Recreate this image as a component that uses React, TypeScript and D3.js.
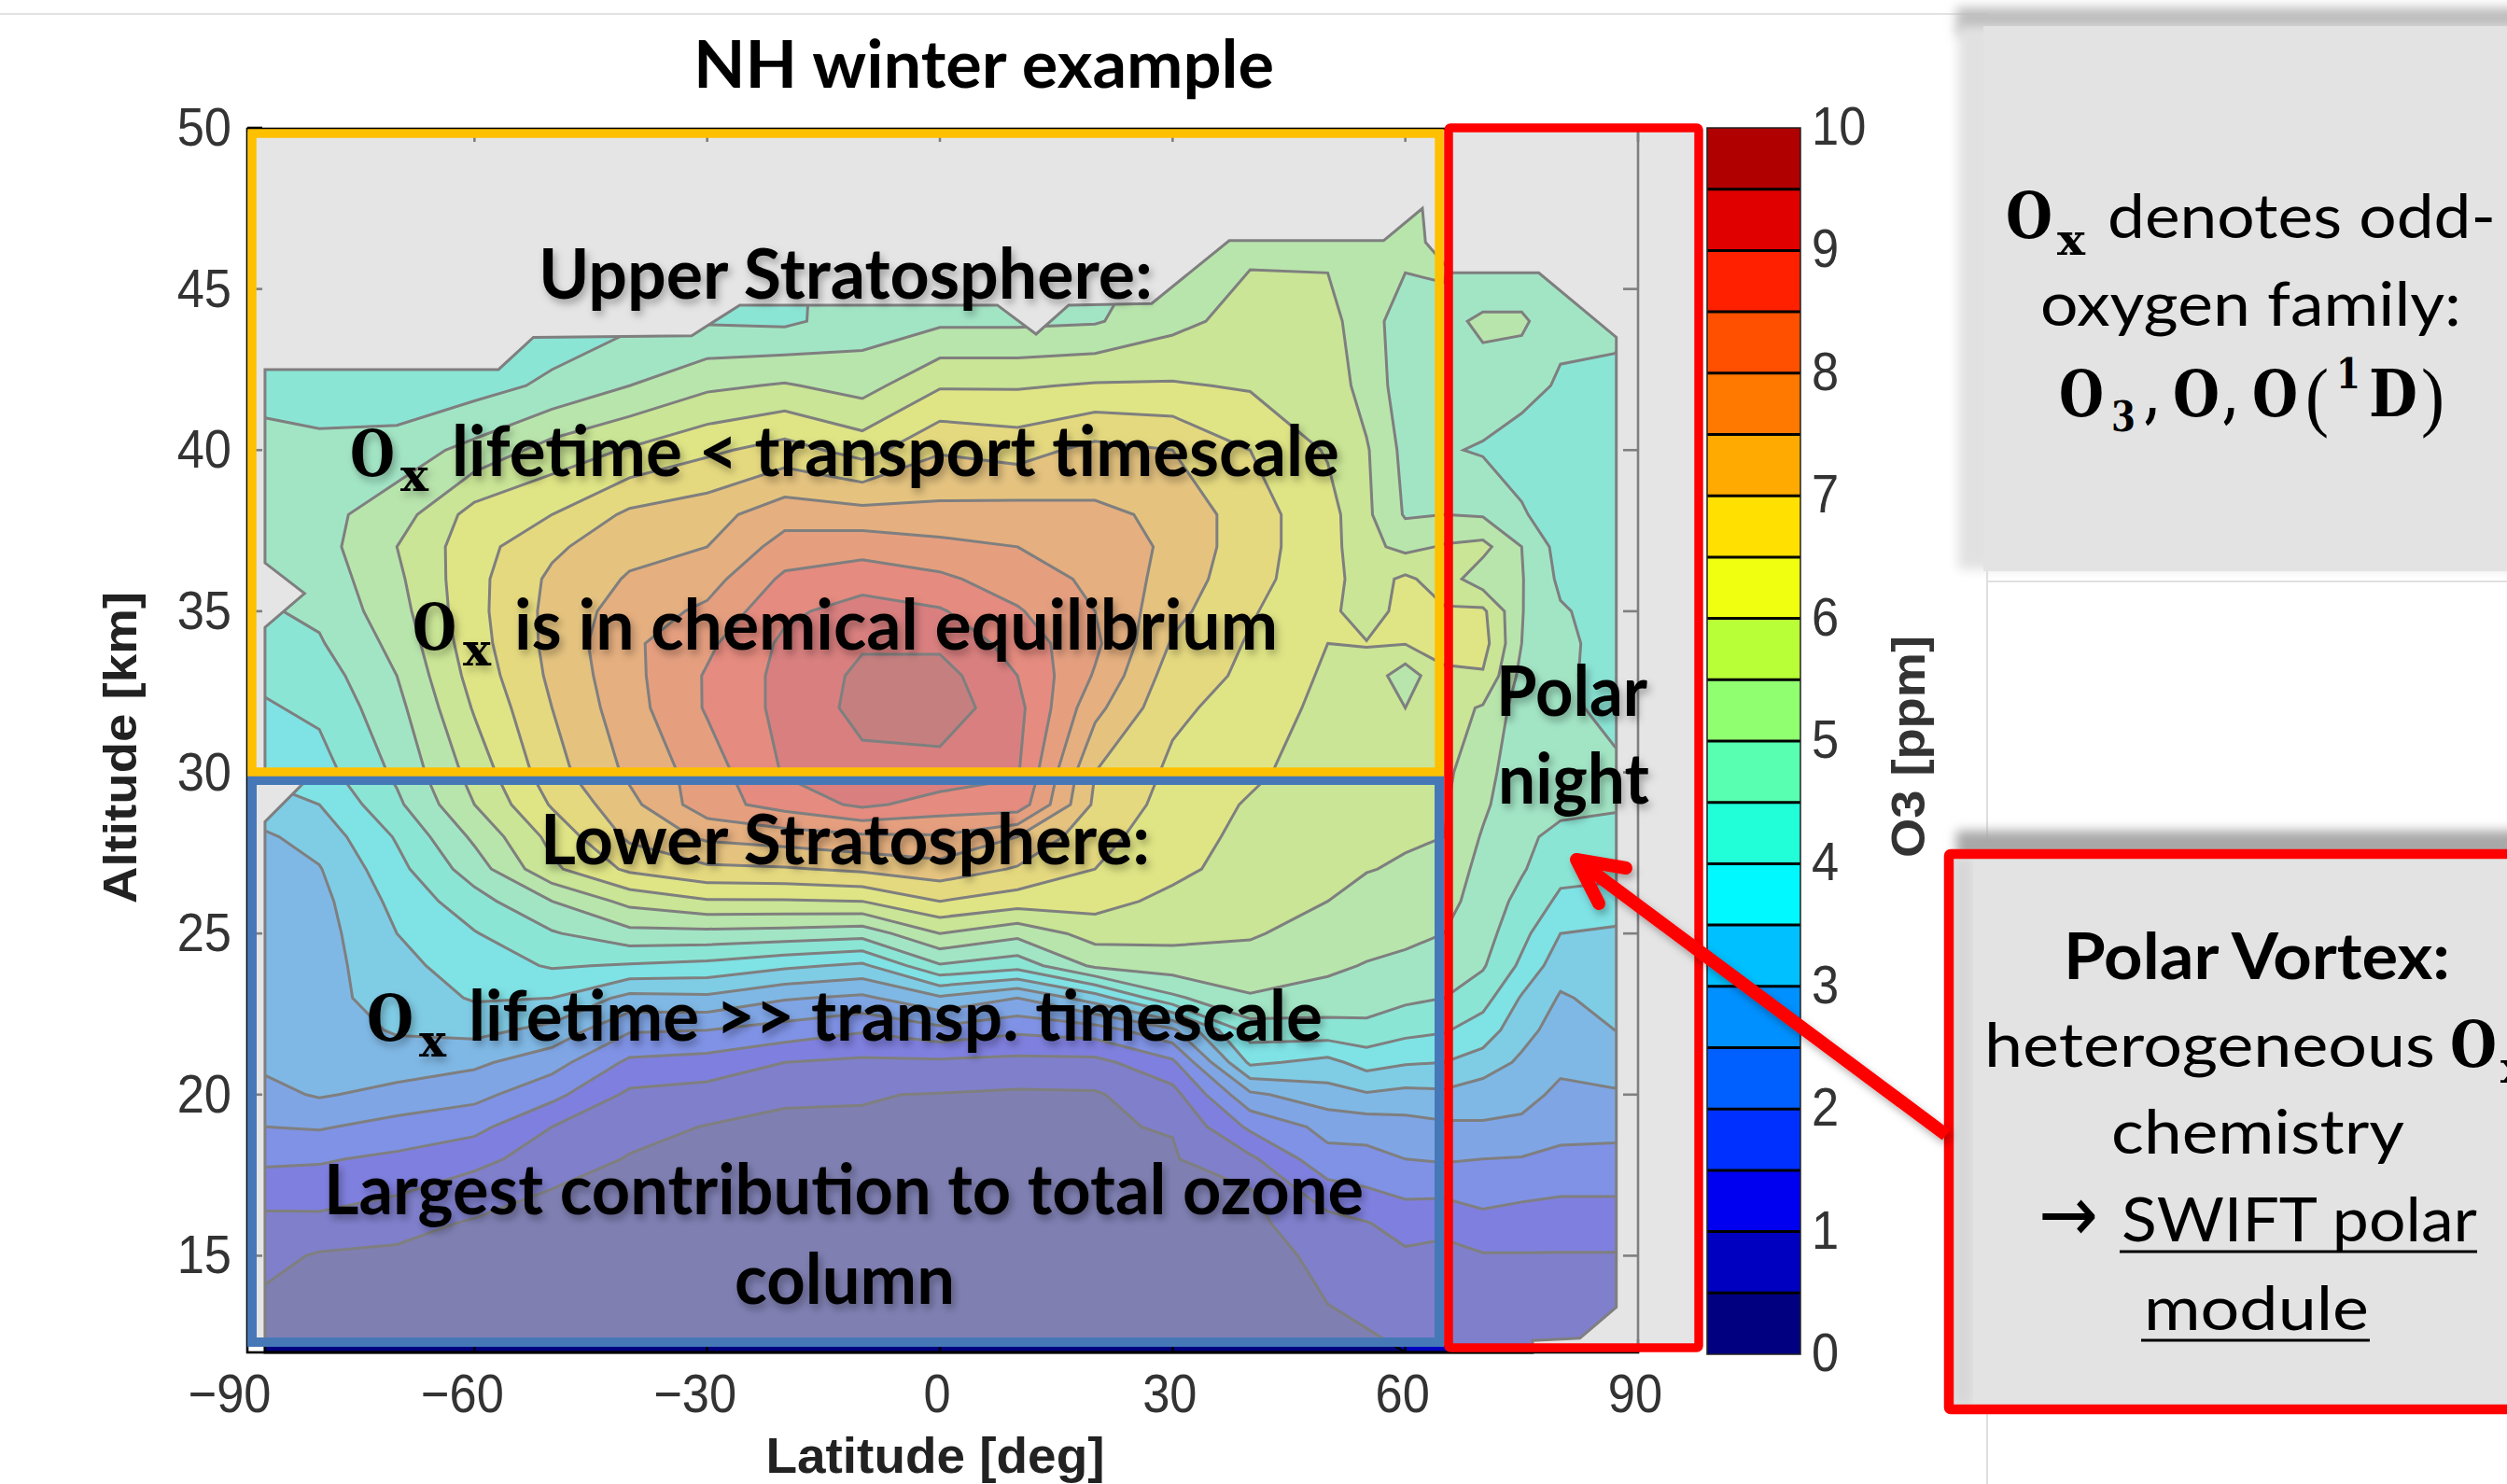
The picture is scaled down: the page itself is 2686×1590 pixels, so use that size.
import React, { useMemo } from "react";
import * as d3 from "d3";

// ---------- data ----------
const altitudes = [12,13.5,15,16,17,18,19,20,21,22,23,24,25,26,27,28,29,30,32,33,34,35,36,37,38,40,42,44,46,48];
const latitudes = [-87,-80,-70,-60,-50,-40,-30,-20,-10,0,10,20,30,40,50,55,60,65,70,75,80,87];

const o3LatS87 = [.2,.4,.65,.87,1.2,1.6,2,2.35,2.6,2.7,2.72,2.75,2.78,2.8,2.85,2.93,3.3,3.6,3.95,4.1,4.3,4.45,4.6,4.7,4.8,4.7,4.3,4.2,4.2,4.2];
const o3LatS80 = [.25,.4,.45,.85,1.25,1.55,2.05,2.55,2.72,2.75,2.85,2.8,2.8,2.85,2.97,3.2,3.5,3.8,4.1,4.25,4.45,4.6,4.7,4.8,4.85,4.65,4.2,4.2,4.2,4.2];
const o3LatS70 = [.2,.33,.42,.65,1.05,1.4,1.82,2.35,2.75,3.05,3.2,3.35,3.5,3.65,3.85,4.05,4.4,4.6,4.85,5,5.15,5.3,5.4,5.5,5.25,4.75,4.1,4,4,4];
const o3LatS60 = [.22,.3,.4,.45,.75,1.15,1.65,2.15,2.6,3.15,3.55,3.75,3.97,4.3,4.75,5.1,5.5,5.7,6.05,6.2,6.3,6.35,6.35,6.3,6.2,5.15,4.3,4,4,4];
const o3LatS50 = [.25,.3,.38,.42,.48,.75,1,1.65,2.2,2.85,3.5,4.05,4.45,5,5.9,6.15,6.55,6.8,7,7.1,7.15,7.15,7.1,6.9,6.5,5.7,4.6,4.2,4.2,4.2];
const o3LatS40 = [.25,.3,.36,.4,.43,.47,.65,.9,1.4,2.05,2.85,3.95,4.85,5.65,6.6,7.1,7.35,7.6,7.8,7.85,7.9,7.75,7.55,7.35,7.1,6.05,5,4.4,4.4,4.4];
const o3LatS30 = [.3,.33,.36,.38,.41,.44,.48,.8,1.3,2,2.9,3.85,4.85,5.95,6.9,7.6,8.3,8.25,8.55,8.55,8.4,8.1,7.8,7.5,7.3,6.4,5.4,4.45,4.4,4.4];
const o3LatS20 = [.3,.33,.35,.37,.4,.43,.46,.53,1,1.8,2.55,3.6,4.8,5.95,6.95,7.75,8.7,9.05,9.15,9.15,9.1,8.9,8.6,8.2,7.8,6.7,5.55,4.4,4.4,4.4];
const o3LatS10 = [.3,.33,.35,.37,.4,.43,.46,.52,.9,1.55,2.4,3.4,4.7,6,7.1,7.9,9.1,9.35,9.65,9.6,9.45,9.2,8.8,8.3,7.7,6.3,5.3,4.75,4.7,4.7];
const o3Lat0 = [.3,.33,.35,.37,.4,.43,.46,.48,.9,1.85,2.92,4.45,5.5,6.5,7.3,7.95,8.8,9.3,9.8,9.7,9.4,9.05,8.6,8.15,7.65,6.95,5.95,4.9,4.7,4.7];
const o3LatN10 = [.3,.33,.35,.38,.42,.45,.47,.43,.85,1.6,2.5,4.2,5.15,6.25,6.95,7.5,8.8,9.05,9.15,9,8.8,8.55,8.25,8,7.7,6.8,5.95,4.9,4.7,4.7];
const o3LatN20 = [.3,.33,.35,.38,.42,.45,.47,.45,.85,1.75,3.25,5.1,5.7,6.2,6.5,6.65,6.9,7,7.65,7.95,8.1,8,7.9,7.8,7.6,7.15,6.05,4.95,4.7,4.7];
const o3LatN30 = [.3,.33,.36,.39,.42,.46,.52,.82,1.4,2.4,4.4,5.25,5.65,5.85,6.15,6.25,6.3,6.4,6.6,6.75,6.95,7.15,7.3,7.4,7.4,7,6.05,5.35,5.2,5.2];
const o3LatN40 = [.3,.32,.34,.38,.47,.9,1.6,2.4,3.6,4.25,4.95,5.3,5.55,5.65,5.75,5.85,5.95,6.1,6.3,6.4,6.45,6.55,6.65,6.7,6.7,6.5,5.95,5.7,5.45,5.4];
const o3LatN50 = [.4,.5,.6,.82,1.3,1.85,2.15,2.8,3.35,4.3,4.8,5.1,5.3,5.5,5.6,5.65,5.7,5.75,5.85,5.92,6,6.1,6.2,6.2,6.2,5.95,5.8,5.65,5.45,5.4];
const o3LatN55 = [.45,.55,.8,.97,1.45,1.85,2.2,2.95,3.7,4.35,4.75,4.97,5.2,5.35,5.52,5.6,5.65,5.7,5.75,5.85,6.02,5.8,5.75,5.65,5.6,5.55,5.3,5.25,5.3,5.3];
const o3LatN60 = [.5,.75,.92,1.2,1.6,2,2.3,2.85,3.55,4.15,4.6,4.9,5.1,5.25,5.45,5.55,5.6,5.65,5.5,5.2,6.02,6.15,6.1,5.35,4.95,4.85,4.75,4.7,5.1,5.1];
const o3LatN65 = [.6,.75,.85,1.15,1.6,2.05,2.4,2.9,3.5,4.05,4.5,4.75,5,5.15,5.3,5.5,5.55,5.6,5.7,5.95,6.1,6.05,5.75,5.55,5,4.55,4.7,4.85,5.1,5.1];
const o3LatN70 = [.65,.78,.97,1.3,1.75,2,2.45,2.7,3.3,3.75,4.2,4.55,4.7,4.8,4.85,4.95,5.1,5.2,5.45,5.95,6.2,6.1,5.2,5.65,4.95,4.45,4.8,5.1,4.4,4.4];
const o3LatN75 = [.7,.82,.97,1.3,1.6,1.97,2.4,2.65,2.9,3.2,3.45,3.9,4.15,4.35,4.55,4.58,4.6,4.65,4.75,4.85,5,5.02,5.03,5,4.55,4.3,4.65,5.1,4.4,4.4];
const o3LatN80 = [.72,.85,.97,1.25,1.55,1.85,2.2,2.4,2.6,2.75,2.95,3.2,3.5,3.9,4.15,4.4,4.6,4.65,4.62,4.6,4.62,4.55,4.4,4.3,4.25,4.2,4.45,4.6,4.6,4.6];
const o3LatN87 = [.72,.85,.97,1.25,1.55,1.85,2.15,2.45,2.7,3,3.15,3.3,3.4,3.85,4.1,4.35,4.55,4.6,4.35,4.3,4.3,4.3,4.25,4.2,4.2,4.2,4.4,4.6,4.6,4.6];

const o3Columns = [o3LatS87,o3LatS80,o3LatS70,o3LatS60,o3LatS50,o3LatS40,o3LatS30,o3LatS20,o3LatS10,o3Lat0,o3LatN10,o3LatN20,o3LatN30,o3LatN40,o3LatN50,o3LatN55,o3LatN60,o3LatN65,o3LatN70,o3LatN75,o3LatN80,o3LatN87];

// outline of the area that has data
const coverageLat = [-87,-56.9,-52.4,-32,-25.8,7.4,12.4,16.6,27.3,37.3,57.2,62.2,62.6,66,77.2,87.2,87.2,82.5,76.4,76.4,-87,-87,-81.9,-87,-87,-81.9,-87];
const coverageAlt = [42.5,42.5,43.5,43.55,44.5,44.5,43.6,44.5,44.55,46.5,46.5,47.5,46.45,45.5,45.5,43.5,13.4,12.44,12.37,12,12,28.47,29.7,30.1,34.5,35.55,36.5];

const bandColors = ["#000080","#0000c0","#0000f0","#0030ff","#0060ff","#0090ff","#00c0ff","#00f8ff","#20ffd8","#58ffb0","#90ff70","#b8ff38","#f0ff10","#ffe000","#ffaa00","#ff7800","#ff5000","#ff2000","#e00000","#b00000"];
const levels = [.5,1,1.5,2,2.5,3,3.5,4,4.5,5,5.5,6,6.5,7,7.5,8,8.5,9,9.5];

const latTicks = [-90,-60,-30,0,30,60,90];
const altTicks = [15,20,25,30,35,40,45,50];
const barTicks = [0,1,2,3,4,5,6,7,8,9,10];

// ---------- layout ----------
const W = 2686, H = 1590;
const xScale = d3.scaleLinear([-90, 90], [259, 1755]);
const yScale = d3.scaleLinear([12, 50], [1449, 137]);
const barScale = d3.scaleLinear([0, 10], [1451, 137]);
const iu = d3.scaleLinear(latitudes.map((_, i) => i), latitudes.map((d) => xScale(d)));
const iv = d3.scaleLinear(altitudes.map((_, i) => i), altitudes.map((d) => yScale(d)));

const SANS = "Lato, 'Open Sans', sans-serif";
const SERIF = "'DejaVu Serif', serif";
const PAREN = "'Liberation Serif', serif";
const ARIAL = "'Liberation Sans', Arial, sans-serif";

function Fit({ x, y, w, size, children, family = SANS, weight = "bold", fill = "#000", filter }: any) {
  return (
    <text x={x} y={y} fontFamily={family} fontWeight={weight} fontSize={size} fill={fill} filter={filter}
      textLength={w} lengthAdjust="spacingAndGlyphs">{children}</text>
  );
}

function Tick({ x, y, label, anchor }: any) {
  return (
    <text transform={`translate(${x},${y}) scale(0.92,1)`} textAnchor={anchor} fontFamily={ARIAL} fontSize={57} fill="#333">{label}</text>
  );
}

export default function App() {
  const { bands, outline } = useMemo(() => {
    const nx = latitudes.length, ny = altitudes.length;
    const flat: number[] = [];
    for (let j = 0; j < ny; j++) for (let i = 0; i < nx; i++) flat.push(o3Columns[i][j]);
    const gen = d3.contours().size([nx, ny]).smooth(true).thresholds(levels);
    const tf = d3.geoTransform({
      point(u: number, v: number) { (this as any).stream.point(iu(u - 0.5), iv(v - 0.5)); },
    });
    const path = d3.geoPath(tf);
    const bands = gen(flat).map((c: any, i: number) => ({ d: path(c) as string, color: bandColors[i + 1] }));
    const outline = (d3.line()(coverageLat.map((lat, i) => [xScale(lat), yScale(coverageAlt[i])] as [number, number])) as string) + "Z";
    return { bands, outline };
  }, []);

  const textShadow = "url(#softShadow)";
  return (
    <svg width={W} height={H} viewBox={`0 0 ${W} ${H}`} style={{ position: "absolute", left: 0, top: 0, background: "#fff" }}>
      <defs>
        <clipPath id="dataArea"><path d={outline} /></clipPath>
        <filter id="softShadow" x="-10%" y="-30%" width="120%" height="170%">
          <feDropShadow dx="3" dy="5" stdDeviation="4" floodColor="#000" floodOpacity="0.3" />
        </filter>
        <filter id="blur8" x="-10%" y="-50%" width="120%" height="200%"><feGaussianBlur stdDeviation="6" /></filter>
      </defs>

      {/* page lines */}
      <line x1="0" y1="15" x2="2129" y2="15" stroke="#e2e2e2" strokeWidth="2" />
      <line x1="2129" y1="15" x2="2129" y2="1590" stroke="#dedede" strokeWidth="2" />
      <line x1="2129" y1="623" x2={W} y2="623" stroke="#e0e0e0" strokeWidth="2" />

      {/* right panels */}
      <rect x="2096" y="8" width="620" height="30" fill="#bdbdbd" filter="url(#blur8)" />
      <rect x="2098" y="28" width="620" height="582" fill="#e1e1e1" filter="url(#blur8)" />
      <rect x="2125" y="28" width="600" height="584" fill="#e3e3e3" />
      <rect x="2096" y="890" width="620" height="40" fill="#a8a8a8" filter="url(#blur8)" />

      {/* map */}
      <g clipPath="url(#dataArea)">
        <path d={outline} fill={bandColors[0]} />
        {bands.map((b: any, i: number) => <path key={"f" + i} d={b.d} fill={b.color} />)}
        {bands.map((b: any, i: number) => <path key={"l" + i} d={b.d} fill="none" stroke="#000" strokeWidth={3} />)}
      </g>
      <path d={outline} fill="none" stroke="#000" strokeWidth={3} />

      {/* axes */}
      <rect x="265" y="138" width="1490" height="1311" fill="none" stroke="#000" strokeWidth="2.6" />
      {latTicks.filter((t) => xScale(t) > 265).map((t) => (
        <g key={"lt" + t}>
          <line x1={xScale(t)} x2={xScale(t)} y1={138} y2={152} stroke="#000" strokeWidth="2.6" />
          <line x1={xScale(t)} x2={xScale(t)} y1={1449} y2={1435} stroke="#000" strokeWidth="2.6" />
        </g>
      ))}
      {altTicks.map((t) => (
        <g key={"at" + t}>
          <line x1={265} x2={281} y1={yScale(t)} y2={yScale(t)} stroke="#000" strokeWidth="2.6" />
          <line x1={1739} x2={1755} y1={yScale(t)} y2={yScale(t)} stroke="#000" strokeWidth="2.6" />
        </g>
      ))}

      {/* translucent veil of the slide */}
      <rect x="265" y="141" width="1550" height="1301" fill="#d4d4d4" fillOpacity="0.6" />

      {/* tick labels */}
      {altTicks.map((t) => <Tick key={"al" + t} x={248} y={yScale(t) + 19} label={t} anchor="end" />)}
      {latTicks.map((t) => (
        <Tick key={"ll" + t} x={xScale(t) + (t < 0 ? -13 : -3)} y={1513} label={t < 0 ? "\u2212" + Math.abs(t) : t} anchor="middle" />
      ))}

      {/* colour bar */}
      {bandColors.map((c, i) => (
        <rect key={"b" + i} x={1829} width={100} y={barScale((i + 1) * 0.5)} height={barScale(i * 0.5) - barScale((i + 1) * 0.5)} fill={c} />
      ))}
      {levels.map((v) => <line key={"bl" + v} x1={1829} x2={1929} y1={barScale(v)} y2={barScale(v)} stroke="#000" strokeWidth="3" />)}
      <rect x={1829} y={137} width={100} height={1314} fill="none" stroke="#222" strokeWidth="1.5" />
      {barTicks.map((t) => <Tick key={"bt" + t} x={1941} y={barScale(t) + 18} label={t} anchor="start" />)}

      {/* axis titles */}
      <text x={0} y={0} transform="translate(146,801) rotate(-90)" textAnchor="middle" fontFamily={ARIAL} fontWeight="bold" fontSize={50} fill="#222" textLength={334} lengthAdjust="spacingAndGlyphs">Altitude [km]</text>
      <text x={1002} y={1578} textAnchor="middle" fontFamily={ARIAL} fontWeight="bold" fontSize={53} fill="#222" textLength={363} lengthAdjust="spacingAndGlyphs">Latitude [deg]</text>
      <text x={0} y={0} transform="translate(2062,800) rotate(-90)" textAnchor="middle" fontFamily={ARIAL} fontWeight="bold" fontSize={50} fill="#333" textLength={238} lengthAdjust="spacingAndGlyphs">O3 [ppm]</text>
      <Fit x={743} y={94} w={622} size={70}>NH winter example</Fit>

      {/* region boxes */}
      <rect x="270" y="836" width="1272" height="602" fill="none" stroke="#4678b8" strokeWidth="10" />
      <rect x="270" y="143" width="1272" height="684" fill="none" stroke="#ffc000" strokeWidth="9.5" />
      <rect x="1552" y="137" width="268" height="1307" rx="2" fill="none" stroke="#ff0000" strokeWidth="9.5" />

      {/* annotations */}
      <g filter={textShadow}>
        <Fit x={577} y={320} w={658} size={74}>Upper Stratosphere:</Fit>
        <Fit x={375} y={510} w={48} size={70} family={SERIF}>O</Fit>
        <Fit x={429} y={526} w={30} size={48} family={SERIF}>x</Fit>
        <Fit x={484} y={510} w={951} size={74}>lifetime &lt; transport timescale</Fit>
        <Fit x={442} y={696} w={47} size={70} family={SERIF}>O</Fit>
        <Fit x={496} y={713} w={30} size={48} family={SERIF}>x</Fit>
        <Fit x={551} y={696} w={818} size={74}>is in chemical equilibrium</Fit>
        <Fit x={579} y={926} w={653} size={74}>Lower Stratosphere:</Fit>
        <Fit x={393} y={1115} w={50} size={70} family={SERIF}>O</Fit>
        <Fit x={449} y={1132} w={29} size={48} family={SERIF}>x</Fit>
        <Fit x={502} y={1115} w={915} size={74}>lifetime &gt;&gt; transp. timescale</Fit>
        <Fit x={347} y={1301} w={1114} size={74}>Largest contribution to total ozone</Fit>
        <Fit x={787} y={1397} w={236} size={74}>column</Fit>
        <Fit x={1603} y={767} w={162} size={74}>Polar</Fit>
        <Fit x={1605} y={861} w={162} size={74}>night</Fit>
      </g>

      {/* polar vortex box and arrow */}
      <rect x="2088" y="915" width="640" height="595" fill="#e3e3e3" />
      <rect x="2094" y="920" width="18" height="585" fill="#d6d6d6" filter="url(#blur8)" />
      <rect x="2088" y="915" width="640" height="595" rx="2" fill="none" stroke="#ff0000" strokeWidth="10.5" />
      <g stroke="#ff0000" strokeWidth="14" strokeLinecap="round" strokeLinejoin="round" fill="none" filter={textShadow}>
        <path d={`M2085,1216 L1689,921`} strokeLinecap="butt" />
        <path d={`M1742,930 L1689,921 L1713,968`} />
      </g>

      {/* panel texts */}
      <Fit x={2149} y={255} w={50} size={70} family={SERIF}>O</Fit>
      <Fit x={2204} y={273} w={30} size={46} family={SERIF}>x</Fit>
      <Fit x={2258} y={255} w={416} size={66} weight="normal">denotes odd-</Fit>
      <Fit x={2186} y={349} w={451} size={66} weight="normal">oxygen family:</Fit>
      <Fit x={2206} y={446} w={48} size={70} family={SERIF}>O</Fit>
      <Fit x={2262} y={462} w={26} size={44} family={SERIF}>3</Fit>
      <Fit x={2298} y={446} w={16} size={60} family={SERIF}>,</Fit>
      <Fit x={2328} y={446} w={50} size={70} family={SERIF}>O</Fit>
      <Fit x={2382} y={446} w={16} size={60} family={SERIF}>,</Fit>
      <Fit x={2413} y={446} w={49} size={70} family={SERIF}>O</Fit>
      <Fit x={2470} y={452} w={25} size={82} family={PAREN} weight="normal">(</Fit>
      <Fit x={2503} y={416} w={26} size={44} family={SERIF}>1</Fit>
      <Fit x={2538} y={446} w={52} size={70} family={SERIF}>D</Fit>
      <Fit x={2594} y={452} w={25} size={82} family={PAREN} weight="normal">)</Fit>

      <Fit x={2211} y={1049} w={414} size={68}>Polar Vortex:</Fit>
      <Fit x={2126} y={1143} w={483} size={66} weight="normal">heterogeneous</Fit>
      <Fit x={2625} y={1143} w={50} size={70} family={SERIF}>O</Fit>
      <Fit x={2679} y={1160} w={30} size={46} family={SERIF}>x</Fit>
      <Fit x={2262} y={1236} w={314} size={66} weight="normal">chemistry</Fit>
      <Fit x={2184} y={1330} w={64} size={84} weight="normal" family="'DejaVu Sans', sans-serif">{"\u2192"}</Fit>
      <Fit x={2273} y={1330} w={381} size={66} weight="normal">SWIFT polar</Fit>
      <line x1={2271} x2={2654} y1={1341} y2={1341} stroke="#000" strokeWidth="3" />
      <Fit x={2297} y={1425} w={241} size={66} weight="normal">module</Fit>
      <line x1={2294} x2={2539} y1={1436} y2={1436} stroke="#000" strokeWidth="3" />
    </svg>
  );
}
